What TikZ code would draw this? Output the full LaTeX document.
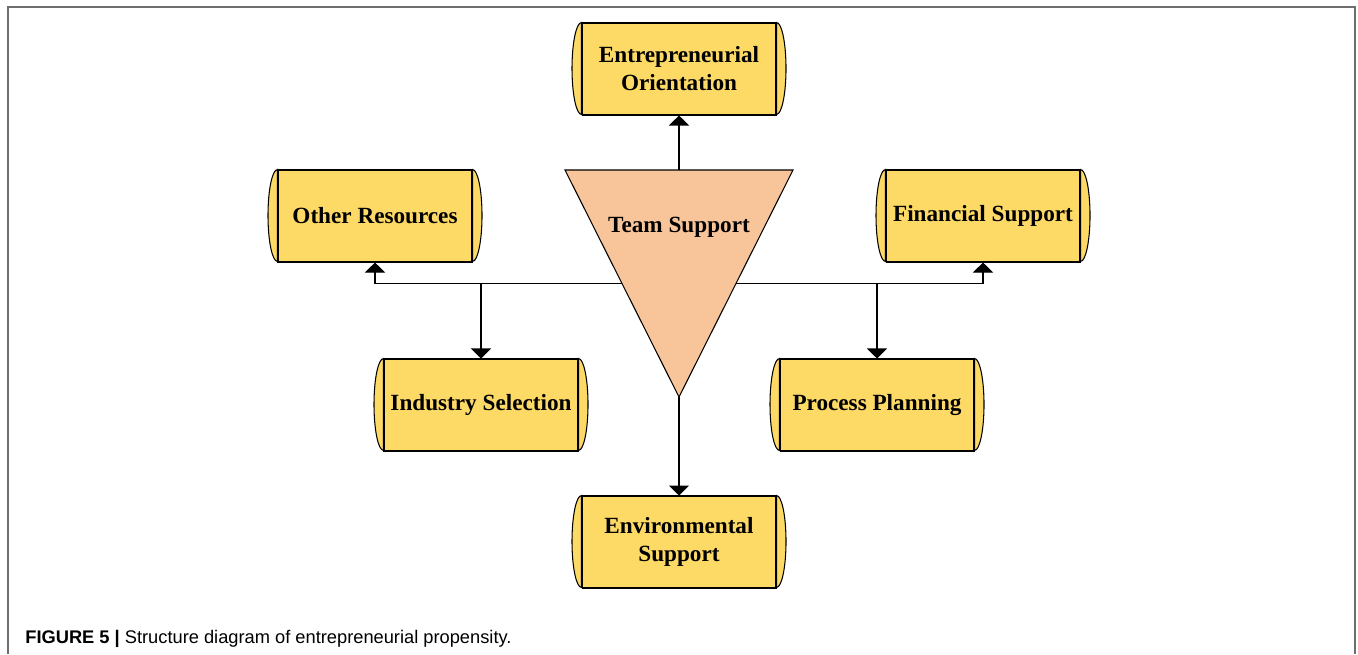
\documentclass[tikz,border=0pt]{standalone}
\usepackage{fontspec}
\setmainfont{Liberation Serif}
\newfontfamily\capfont{Liberation Sans}
\usetikzlibrary{shapes,positioning,calc,arrows.meta}
\definecolor{drumfill}{HTML}{FDD966}
\definecolor{teamfill}{HTML}{F8C59B}
\definecolor{framegray}{HTML}{6E6E6E}
\tikzstyle{drum}=[draw, fill=drumfill, inner sep=0pt, minimum width=3.88cm, minimum height=1.84cm, align=center, line width=0.6pt, font=\fontsize{13.2}{15.9}\selectfont\bfseries]
\tikzstyle{drumcap}=[draw, fill=drumfill, line width=0.6pt]
\tikzstyle{link}=[draw=black, line width=0.6pt, -{Triangle[width=0.4cm,length=0.2cm]}]
\tikzstyle{team}=[draw=black, fill=teamfill, line width=0.6pt]

\begin{document}
\begin{tikzpicture}[x=0.02cm, y=-0.02cm]
            \useasboundingbox (0,0) rectangle (1358,654);
            \draw[framegray, line width=0.8pt] (8,654) -- (8,7) -- (1355,7) -- (1355,654);

            \begin{scope}[every node/.style={drum}]
                \node (orient) at (679,69) {Entrepreneurial\\Orientation};
                \node (other) at (375,216) {Other Resources};
                \node (finance) at (983,216) {Financial Support};
                \node (industry) at (481,405) {Industry Selection};
                \node (process) at (877,405) {Process Planning};
                \node (environ) at (679,542) {Environmental\\Support};
            \end{scope}

            % rounded ends of the drums
            \foreach \n in {orient,other,finance,industry,process,environ} {
                \path[drumcap] (\n.north west) arc[start angle=90, end angle=270, x radius=0.19cm, y radius=0.92cm] -- cycle;
                \path[drumcap] (\n.north east) arc[start angle=90, end angle=-90, x radius=0.19cm, y radius=0.92cm] -- cycle;
            }

            \coordinate (tl) at (565,170);
            \coordinate (tr) at (793,170);
            \coordinate (tip) at (679,397);
            \coordinate (top) at (679,170);
            \coordinate (lft) at ($(tl)!0.5!(tip)$);
            \coordinate (rgt) at ($(tr)!0.5!(tip)$);
            \path[team] (tl) -- (tr) -- (tip) -- cycle;
            \node[font=\fontsize{13.2}{15.9}\selectfont\bfseries] (teamtxt) at (679,227) {Team Support};

            \begin{scope}[every path/.style={link}]
                \path (top) -- (orient);
                \path (tip) -- (environ);
                \path (lft) -| (other);
                \path (rgt) -| (finance);
                \path (lft -| industry) -- (industry);
                \path (rgt -| process) -- (process);
            \end{scope}

            \node[anchor=base west, inner sep=0pt, font=\capfont\fontsize{10.4}{12}\selectfont] (caption) at (25,643) {\textbf{FIGURE 5 |} Structure diagram of entrepreneurial propensity.};
        \end{tikzpicture}
\end{document}
